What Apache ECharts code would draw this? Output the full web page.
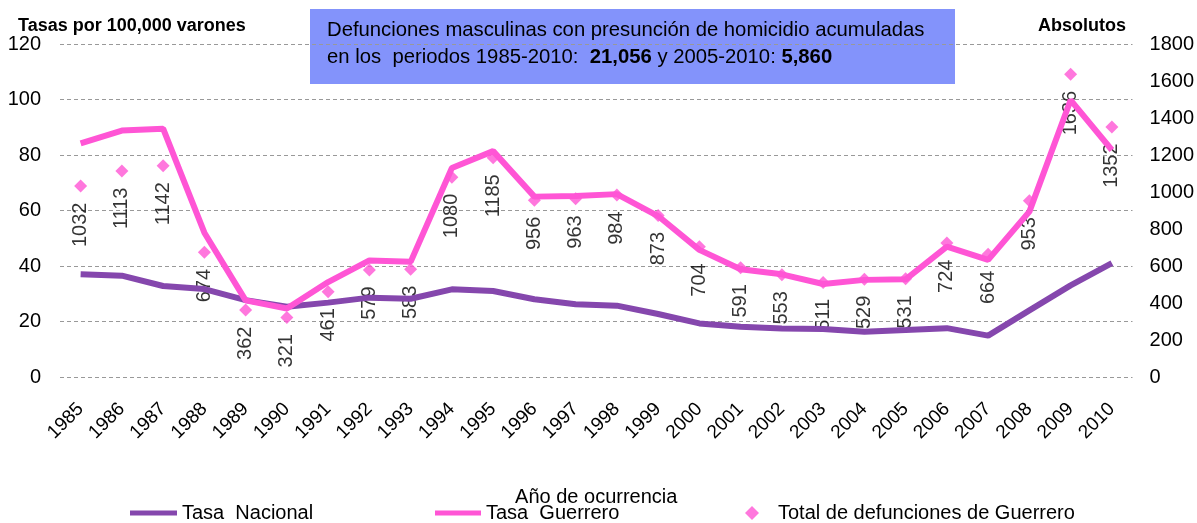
<!DOCTYPE html>
<html>
<head>
<meta charset="utf-8">
<script src="https://cdn.jsdelivr.net/npm/echarts@6/dist/echarts.min.js"></script>
<style>
  html, body { margin: 0; padding: 0; background: #fff; }
  #chart { width: 1197px; height: 523px; }
</style>
</head>
<body>
<div id="chart"></div>
<script>
// años
const years = ['1985', '1986', '1987', '1988', '1989', '1990', '1991', '1992', '1993', '1994', '1995', '1996', '1997',
  '1998', '1999', '2000', '2001', '2002', '2003', '2004', '2005', '2006', '2007', '2008', '2009', '2010']

// tasas por 100,000 varones
const tasaNacional = [37.0, 36.5, 32.8, 31.7, 27.7, 25.3, 26.8, 28.6, 28.2, 31.6, 31.0, 28.0, 26.2,
  25.7, 22.7, 19.3, 18.1, 17.5, 17.3, 16.3, 16.9, 17.6, 14.9, 24.0, 33.0, 41.0]
const tasaGuerrero = [84.2, 88.8, 89.5, 52.0, 27.6, 24.7, 34.2, 42.0, 41.5, 75.3, 81.4, 65.0, 65.2,
  65.9, 58.0, 45.8, 38.8, 37.0, 33.5, 35.0, 35.2, 47.0, 42.2, 59.6, 99.8, 81.8]

// defunciones absolutas
const totalGuerrero = [1032, 1113, 1142, 674, 362, 321, 461, 579, 583, 1080, 1185, 956, 963,
  984, 873, 704, 591, 553, 511, 529, 531, 724, 664, 953, 1636, 1352]

const leftTicks = { min: 0, max: 120, interval: 20 }
const rightTicks = { min: 0, max: 1800, interval: 200 }

const purple = '#8547ad'
const pink = '#ff55d5'
const font = 'Arial, "Liberation Sans", sans-serif'

const myChart = echarts.init(document.getElementById('chart'))

const legendText = { fontSize: 20, fontFamily: font, color: '#000' }

const options = {
  animation: false,
  textStyle: { fontFamily: font, color: '#000' },
  grid: { left: 60, right: 64, top: 44, bottom: 146 },
  graphic: [{
    type: 'group',
    left: 310,
    top: 9,
    z: 10,
    children: [{
      type: 'rect',
      shape: { x: 0, y: 0, width: 645, height: 75 },
      style: { fill: 'rgba(100,120,250,0.8)' }
    }, {
      type: 'text',
      x: 17,
      y: 8,
      style: {
        text: 'Defunciones masculinas con presunción de homicidio acumuladas\n' +
          '{a|en los  periodos 1985-2010:  }{b|21,056}{a| y 2005-2010: }{b|5,860}',
        font: '20.3px ' + font,
        fill: '#000',
        lineHeight: 27,
        rich: {
          a: { font: '20.3px ' + font, fill: '#000', lineHeight: 27 },
          b: { font: 'bold 20.3px ' + font, fill: '#000', lineHeight: 27 }
        }
      }
    }]
  }, {
    type: 'text',
    left: 18,
    top: 17,
    style: { text: 'Tasas por 100,000 varones', font: 'bold 18px ' + font, fill: '#000' }
  }, {
    type: 'text',
    left: 1038,
    top: 17,
    style: { text: 'Absolutos', font: 'bold 18px ' + font, fill: '#000' }
  }],
  legend: [{
    left: 130,
    top: 503,
    padding: 0,
    itemWidth: 47,
    itemHeight: 5,
    icon: 'rect',
    data: ['Tasa  Nacional'],
    textStyle: legendText
  }, {
    left: 435,
    top: 503,
    padding: 0,
    itemWidth: 46,
    itemHeight: 5,
    icon: 'rect',
    data: ['Tasa  Guerrero'],
    textStyle: legendText
  }, {
    left: 745,
    top: 503,
    padding: 0,
    itemWidth: 14,
    itemHeight: 14,
    icon: 'diamond',
    data: ['Total de defunciones de Guerrero'],
    textStyle: Object.assign({}, legendText, { padding: [0, 0, 0, 14] })
  }],
  xAxis: {
    type: 'category',
    data: years,
    name: 'Año de ocurrencia',
    nameLocation: 'middle',
    nameGap: 110,
    nameTextStyle: { fontSize: 20, fontFamily: font, color: '#000' },
    axisLine: { show: false },
    axisTick: { show: false },
    axisLabel: { rotate: 45, margin: 29, fontSize: 19, color: '#000', fontFamily: font, interval: 0 }
  },
  yAxis: [{
    type: 'value',
    min: leftTicks.min,
    max: leftTicks.max,
    interval: leftTicks.interval,
    axisLine: { show: false },
    axisTick: { show: false },
    axisLabel: { fontSize: 20, color: '#000', fontFamily: font, margin: 19 },
    splitLine: { lineStyle: { color: '#999', type: [4, 3], width: 1 } }
  }, {
    type: 'value',
    min: rightTicks.min,
    max: rightTicks.max,
    interval: rightTicks.interval,
    axisLine: { show: false },
    axisTick: { show: false },
    axisLabel: { fontSize: 20, color: '#000', fontFamily: font, margin: 17, formatter: v => String(v) },
    splitLine: { show: false }
  }],
  series: [{
    name: 'Total de defunciones de Guerrero',
    type: 'scatter',
    yAxisIndex: 1,
    z: 1,
    symbol: 'diamond',
    symbolSize: 13,
    itemStyle: { color: pink },
    label: {
      show: true,
      position: 'bottom',
      distance: 10,
      rotate: 90,
      align: 'right',
      verticalAlign: 'middle',
      fontSize: 20,
      color: '#000',
      fontFamily: font
    },
    data: totalGuerrero
  }, {
    name: 'Tasa  Nacional',
    type: 'line',
    z: 3,
    symbol: 'none',
    itemStyle: { color: purple },
    lineStyle: { color: purple, width: 6 },
    data: tasaNacional
  }, {
    name: 'Tasa  Guerrero',
    type: 'line',
    z: 3,
    symbol: 'none',
    itemStyle: { color: pink },
    lineStyle: { color: pink, width: 6 },
    data: tasaGuerrero
  }]
}

myChart.setOption(options)
</script>
</body>
</html>
